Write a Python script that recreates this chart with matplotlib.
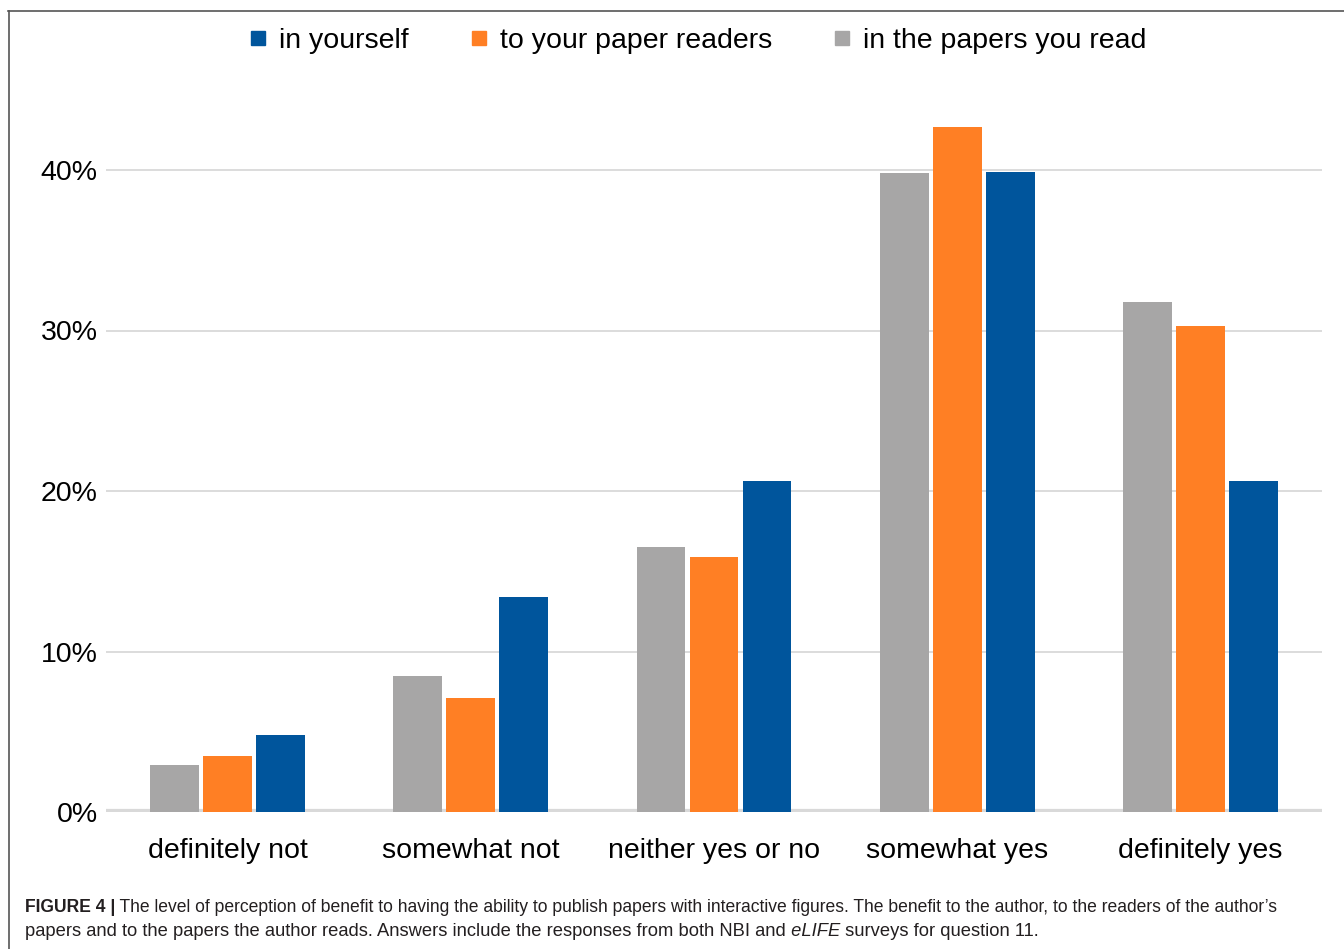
import numpy as np
import matplotlib
matplotlib.use("Agg")
import matplotlib.pyplot as plt
from matplotlib.lines import Line2D
from matplotlib import font_manager

# Данные (доли ответов, %)
categories = ["definitely not", "somewhat not", "neither yes or no", "somewhat yes", "definitely yes"]
papers_you_read = [2.9, 8.5, 16.5, 39.8, 31.8]
paper_readers = [3.5, 7.1, 15.9, 42.7, 30.3]
in_yourself = [4.8, 13.4, 20.6, 39.9, 20.6]
yticks = [0, 10, 20, 30, 40]
ytick_labels = ["0%", "10%", "20%", "30%", "40%"]

GRAY = "#a7a6a6"
ORANGE = "#ff7f24"
BLUE = "#00559c"
GRID = "#d9d9d9"

W, H = 1344, 949
plt.rcParams["font.family"] = ["Liberation Sans", "DejaVu Sans"]

fig = plt.figure(figsize=(W / 100, H / 100), dpi=100)
ax = fig.add_axes([106 / W, 1 - 812 / H, (1322 - 106) / W, (812 - 89.75) / H])

x = np.arange(len(categories))
bw = 0.2
off = 0.218
ax.bar(x - off, papers_you_read, bw, color=GRAY, zorder=3)
ax.bar(x, paper_readers, bw, color=ORANGE, zorder=3)
ax.bar(x + off, in_yourself, bw, color=BLUE, zorder=3)

ax.set_xlim(-0.5, len(categories) - 0.5)
ax.set_ylim(0, 45)
ax.set_yticks(yticks)
ax.set_yticklabels(ytick_labels)
ax.set_xticks(x)
ax.set_xticklabels(categories)
ax.tick_params(axis="y", length=0, pad=6, labelsize=20.5)
ax.tick_params(axis="x", length=0, pad=19, labelsize=20.5)
for s in ax.spines.values():
    s.set_visible(False)
ax.set_axisbelow(True)
ax.yaxis.grid(True, color=GRID, lw=1.3)
ax.axhline(0, color=GRID, lw=4.5, zorder=2)

# Легенда
handles = [
    Line2D([], [], marker="s", ls="", color=BLUE, markersize=10),
    Line2D([], [], marker="s", ls="", color=ORANGE, markersize=10),
    Line2D([], [], marker="s", ls="", color=GRAY, markersize=10),
]
labels = ["in yourself", "to your paper readers", "in the papers you read"]
fig.legend(handles, labels, loc="center", bbox_to_anchor=(698 / W, 1 - 41 / H),
           ncol=3, frameon=False, fontsize=20.5, handlelength=0.6,
           handletextpad=0.45, columnspacing=2.15)

# Рамка слева и сверху
fig.add_artist(Line2D([8.5 / W, 8.5 / W], [0, 1 - 11 / H], transform=fig.transFigure,
                      color="#555555", lw=1.2))
fig.add_artist(Line2D([8 / W, 1], [1 - 11 / H, 1 - 11 / H], transform=fig.transFigure,
                      color="#555555", lw=1.2))

# Подпись
names = {f.name for f in font_manager.fontManager.ttflist}
narrow = "Liberation Sans Narrow" if "Liberation Sans Narrow" in names else "Liberation Sans"
renderer = fig.canvas.get_renderer()


def draw_runs(runs, x0, y, size, family):
    xs = x0
    objs = []
    for txt, weight, style in runs:
        t = fig.text(xs / W, 1 - y / H, txt, fontsize=size, fontweight=weight,
                     fontstyle=style, family=family, va="baseline", ha="left",
                     color="#231f20")
        bb = t.get_window_extent(renderer)
        xs = bb.x1
        objs.append(t)
    return objs, xs - x0


def fit_runs(runs, x0, y, target, family, size=13.0):
    objs, w = draw_runs(runs, x0, y, size, family)
    for o in objs:
        o.remove()
    objs, w = draw_runs(runs, x0, y, size * target / w, family)


line1 = [("FIGURE 4 |", "bold", "normal"),
         (" The level of perception of benefit to having the ability to publish papers with "
          "interactive figures. The benefit to the author, to the readers of the author\u2019s",
          "normal", "normal")]
line2 = [("papers and to the papers the author reads. Answers include the responses from both NBI and",
          "normal", "normal"),
         (" eLIFE", "normal", "italic"),
         (" surveys for question 11.", "normal", "normal")]
fit_runs(line1, 25, 912, 1255, narrow)
fit_runs(line2, 25, 936, 1012, narrow)

fig.savefig("out.png", dpi=100)
